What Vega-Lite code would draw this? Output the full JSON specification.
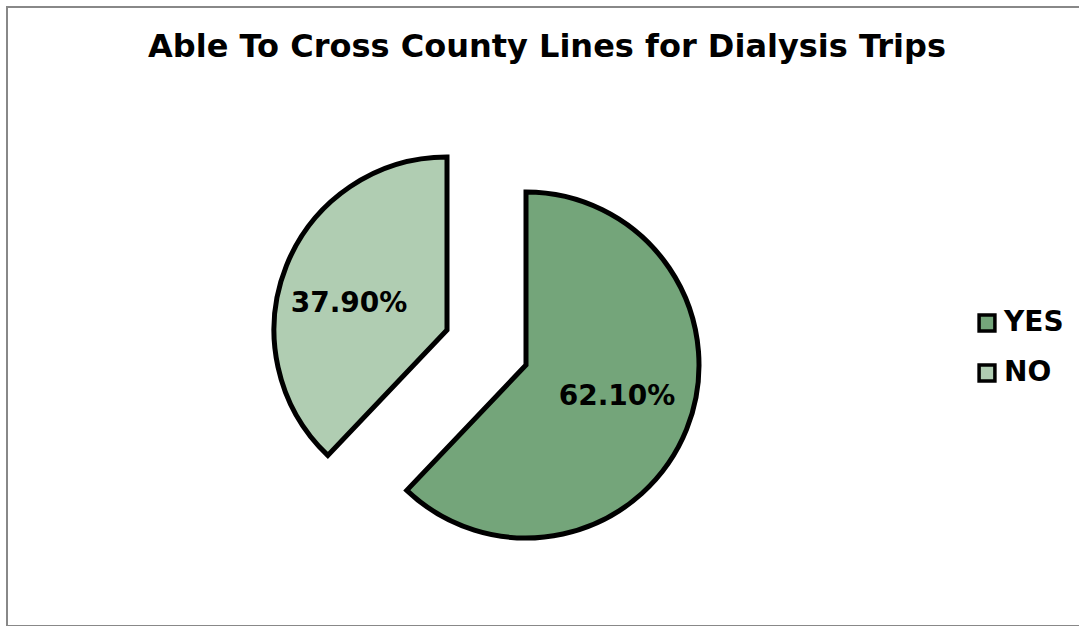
{
  "$schema": "https://vega.github.io/schema/vega-lite/v6.json",
  "autosize": "none",
  "padding": {"left": 7, "top": 7, "right": 0, "bottom": 0},
  "width": 1080,
  "height": 619,
  "background": "white",
  "title": {
    "text": "Able To Cross County Lines for Dialysis Trips",
    "font": "DejaVu Sans",
    "fontSize": 32,
    "fontWeight": "bold",
    "color": "black",
    "anchor": "middle",
    "baseline": "alphabetic",
    "offset": -48,
    "dy": 35
  },
  "layer": [
    {
      "data": {"values": [{"frame": "border"}]},
      "mark": {
        "type": "rect",
        "x": 0,
        "y": 0,
        "x2": {"expr": "width"},
        "y2": {"expr": "height"},
        "fill": null,
        "fillOpacity": 0,
        "stroke": "#888888",
        "strokeWidth": 2
      },
      "encoding": {}
    },
    {
      "data": {
        "values": [
          {"answer": "YES", "value": 0.621},
          {"answer": "NO", "value": 0.379}
        ]
      },
      "encoding": {
        "theta": {"field": "value", "type": "quantitative", "stack": true},
        "order": {"field": "value", "sort": "descending"}
      },
      "layer": [
        {
          "mark": {
            "type": "arc",
            "outerRadius": 173,
            "stroke": "black",
            "strokeWidth": 5,
            "strokeJoin": "miter",
            "x": {"expr": "datum.answer === 'YES' ? 519 : 440"},
            "y": {"expr": "datum.answer === 'YES' ? 358 : 323"}
          },
          "encoding": {
            "color": {
              "field": "answer",
              "type": "nominal",
              "scale": {"domain": ["YES", "NO"], "range": ["#74A57A", "#B0CDB2"]},
              "legend": {
                "title": null,
                "orient": "none",
                "legendX": 966,
                "legendY": 302,
                "padding": 0,
                "symbolType": "square",
                "symbolSize": 250,
                "symbolStrokeColor": "black",
                "symbolStrokeWidth": 3.5,
                "symbolOpacity": 1,
                "labelFont": "DejaVu Sans",
                "labelFontSize": 28,
                "labelFontWeight": "bold",
                "labelColor": "black",
                "labelOffset": 3,
                "rowPadding": 20
              }
            }
          }
        },
        {
          "mark": {
            "type": "text",
            "radius": 98,
            "font": "DejaVu Sans",
            "fontSize": 28,
            "fontWeight": "bold",
            "fill": "black",
            "align": "center",
            "baseline": "middle",
            "x": {"expr": "datum.answer === 'YES' ? 519 : 440"},
            "y": {"expr": "datum.answer === 'YES' ? 358 : 323"},
            "dx": {"expr": "datum.answer === 'YES' ? 0 : -7"},
            "dy": {"expr": "datum.answer === 'YES' ? -4 : 10"}
          },
          "encoding": {
            "text": {"field": "value", "type": "quantitative", "format": ".2%"},
            "color": {"value": "black"}
          }
        }
      ]
    }
  ],
  "config": {
    "view": {"stroke": null},
    "font": "DejaVu Sans"
  }
}
